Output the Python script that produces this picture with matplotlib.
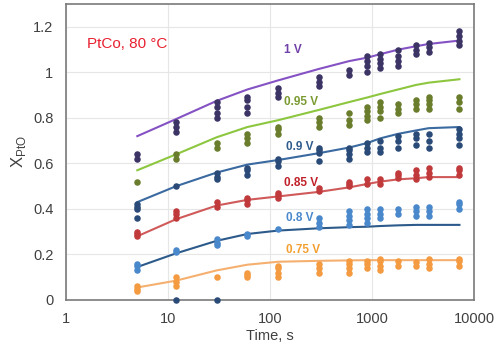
import matplotlib
matplotlib.use("Agg")
import matplotlib.pyplot as plt
from matplotlib.ticker import FixedLocator, FixedFormatter

plt.rcParams["font.family"] = ["Liberation Sans", "DejaVu Sans"]

# ---- data ----
times = [5, 12, 30, 60, 120, 300, 600, 900, 1200, 1800, 2700, 3600, 7200]

labels = ["1 V", "0.95 V", "0.9 V", "0.85 V", "0.8 V", "0.75 V"]

pts_1v = [[0.62, 0.64], [0.74, 0.76, 0.78], [0.80, 0.82, 0.85, 0.87], [0.82, 0.85, 0.88, 0.89],
          [0.89, 0.91, 0.93], [0.94, 0.96, 0.98], [0.99, 1.01], [1.00, 1.03, 1.05, 1.07],
          [1.02, 1.04, 1.06, 1.08], [1.03, 1.05, 1.07, 1.10], [1.08, 1.10, 1.12],
          [1.09, 1.11, 1.13], [1.12, 1.14, 1.16, 1.18]]
pts_095v = [[0.52], [0.62, 0.64], [0.67, 0.69], [0.69, 0.71, 0.73], [0.73, 0.75, 0.76],
            [0.76, 0.78, 0.80], [0.77, 0.79, 0.82], [0.79, 0.81, 0.83, 0.85],
            [0.80, 0.83, 0.85, 0.87], [0.82, 0.84, 0.86], [0.84, 0.86, 0.88],
            [0.84, 0.86, 0.88, 0.89], [0.84, 0.87, 0.89]]
pts_09v = [[0.36, 0.40, 0.41, 0.42], [0.0, 0.50], [0.0, 0.53, 0.54, 0.56], [0.55, 0.57, 0.58],
           [0.59, 0.61, 0.62], [0.61, 0.645, 0.66, 0.67], [0.62, 0.64, 0.66, 0.67],
           [0.65, 0.67, 0.69], [0.65, 0.67, 0.70], [0.67, 0.70, 0.72], [0.68, 0.71, 0.73],
           [0.67, 0.70, 0.73], [0.68, 0.71, 0.73, 0.75]]
pts_085v = [[0.28, 0.29, 0.30], [0.36, 0.38, 0.39], [0.41, 0.43], [0.42, 0.44, 0.45],
            [0.45, 0.46, 0.47], [0.48, 0.49], [0.50, 0.51, 0.52], [0.51, 0.53], [0.51, 0.53],
            [0.535, 0.55, 0.56], [0.53, 0.55, 0.57], [0.54, 0.56, 0.58], [0.55, 0.57, 0.58]]
pts_08v = [[0.13, 0.15, 0.16], [0.21, 0.22], [0.24, 0.25, 0.27], [0.28, 0.29], [0.31],
           [0.32, 0.34, 0.36], [0.33, 0.35, 0.37, 0.39], [0.34, 0.36, 0.38, 0.40],
           [0.36, 0.38, 0.40], [0.38, 0.40], [0.37, 0.39, 0.41], [0.37, 0.39, 0.41],
           [0.40, 0.42, 0.43]]
pts_075v = [[0.04, 0.05, 0.06], [0.06, 0.08, 0.10], [0.10], [0.10, 0.11, 0.12],
            [0.10, 0.12, 0.14, 0.15], [0.12, 0.14, 0.16], [0.12, 0.14, 0.16, 0.17],
            [0.14, 0.16, 0.17], [0.13, 0.15, 0.17, 0.18], [0.15, 0.17], [0.15, 0.165],
            [0.14, 0.16, 0.18], [0.15, 0.17, 0.18]]

model_1v = [0.72, 0.795, 0.875, 0.925, 0.965, 1.015, 1.05, 1.065, 1.08, 1.10, 1.115, 1.125, 1.14]
model_095v = [0.57, 0.64, 0.715, 0.76, 0.79, 0.835, 0.87, 0.89, 0.905, 0.925, 0.945, 0.955, 0.97]
model_09v = [0.43, 0.50, 0.56, 0.595, 0.615, 0.645, 0.67, 0.69, 0.71, 0.73, 0.745, 0.755, 0.76]
model_085v = [0.28, 0.355, 0.415, 0.44, 0.455, 0.475, 0.495, 0.51, 0.52, 0.53, 0.535, 0.54, 0.54]
model_08v = [0.145, 0.205, 0.26, 0.29, 0.305, 0.315, 0.32, 0.322, 0.325, 0.328, 0.33, 0.33, 0.33]
model_075v = [0.055, 0.085, 0.13, 0.155, 0.168, 0.172, 0.174, 0.175, 0.175, 0.175, 0.175, 0.175, 0.175]

label_x = [138, 138, 142, 138, 142, 142]
label_y = [1.10, 0.87, 0.672, 0.515, 0.36, 0.22]

x_ticks = [1, 10, 100, 1000, 10000]
x_tick_labels = ["1", "10", "100", "1000", "10000"]
y_ticks = [0, 0.2, 0.4, 0.6, 0.8, 1.0, 1.2]
y_tick_labels = ["0", "0.2", "0.4", "0.6", "0.8", "1", "1.2"]

# ---- styles ----
series = [
    (pts_1v, model_1v, "#3d3466", "#8552c4", "#7040a8"),
    (pts_095v, model_095v, "#6a7d2c", "#8dc63f", "#7a9a30"),
    (pts_09v, model_09v, "#2a4a78", "#3a6aa0", "#2e5b8c"),
    (pts_085v, model_085v, "#c0393b", "#d05a5a", "#c0202a"),
    (pts_08v, model_08v, "#4a88cc", "#2c5a8a", "#4a88cc"),
    (pts_075v, model_075v, "#f49a40", "#f5b070", "#f4a030"),
]

fig = plt.figure(figsize=(5.0, 3.46), dpi=100)
ax = fig.add_axes([0.132, 0.133, 0.816, 0.855])

for (pts, model, pc, lc, tc), lab, lx, ly in zip(series, labels, label_x, label_y):
    xs, ys = [], []
    for t, vals in zip(times, pts):
        for v in vals:
            xs.append(t)
            ys.append(v)
    ax.plot(times, model, color=lc, lw=1.5, zorder=2)
    ax.scatter(xs, ys, s=22, color=pc, zorder=3, linewidths=0, clip_on=False)
    ax.text(lx, ly, lab, color=tc, fontsize=8.5, fontweight="bold", ha="left", va="center",
            zorder=4)

ax.text(1.61, 1.125, "PtCo, 80 °C", color="#e82030", fontsize=11, ha="left", va="center")

ax.set_xscale("log")
ax.set_xlim(1, 10000)
ax.set_ylim(0, 1.3)
ax.xaxis.set_major_locator(FixedLocator(x_ticks))
ax.xaxis.set_major_formatter(FixedFormatter(x_tick_labels))
ax.xaxis.set_minor_locator(FixedLocator([]))
ax.yaxis.set_major_locator(FixedLocator(y_ticks))
ax.yaxis.set_major_formatter(FixedFormatter(y_tick_labels))

ax.grid(True, color="#e6e6e6", lw=0.8, zorder=0)
ax.set_axisbelow(True)
ax.tick_params(length=0, pad=9, labelsize=10.5, colors="#404040")
for s in ax.spines.values():
    s.set_color("#7a7a7a")
    s.set_linewidth(1.2)

ax.set_xlabel("Time, s", fontsize=10.5, color="#404040", labelpad=2)
ax.set_ylabel("X$_{\\mathregular{PtO}}$", fontsize=12, color="#404040", labelpad=4)

fig.savefig("out.png", dpi=100)
